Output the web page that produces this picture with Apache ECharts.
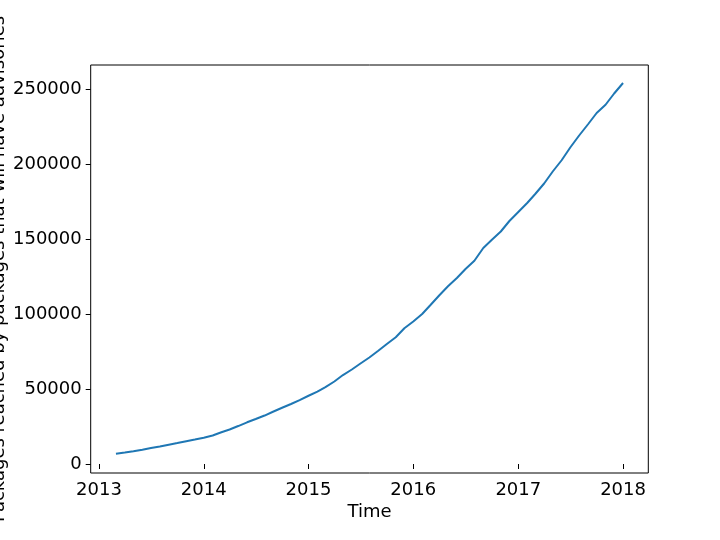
<!DOCTYPE html>
<html>
<head>
<meta charset="utf-8">
<script src="https://cdn.jsdelivr.net/npm/echarts@6/dist/echarts.min.js"></script>
<style>html,body{margin:0;padding:0;background:#fff}#c{width:720px;height:540px}</style>
</head>
<body>
<div id="c"></div>
<script>
var months = [
 '2013-03-01','2013-04-01','2013-05-01','2013-06-01','2013-07-01','2013-08-01','2013-09-01','2013-10-01','2013-11-01','2013-12-01',
 '2014-01-01','2014-02-01','2014-03-01','2014-04-01','2014-05-01','2014-06-01','2014-07-01','2014-08-01','2014-09-01','2014-10-01','2014-11-01','2014-12-01',
 '2015-01-01','2015-02-01','2015-03-01','2015-04-01','2015-05-01','2015-06-01','2015-07-01','2015-08-01','2015-09-01','2015-10-01','2015-11-01','2015-12-01',
 '2016-01-01','2016-02-01','2016-03-01','2016-04-01','2016-05-01','2016-06-01','2016-07-01','2016-08-01','2016-09-01','2016-10-01','2016-11-01','2016-12-01',
 '2017-01-01','2017-02-01','2017-03-01','2017-04-01','2017-05-01','2017-06-01','2017-07-01','2017-08-01','2017-09-01','2017-10-01','2017-11-01','2017-12-01',
 '2018-01-01'
];
var reached = [
 6800,7600,8500,9500,10600,11600,12900,14000,15200,16300,
 17500,19000,21000,23000,25300,27800,30000,32300,35000,37500,40000,42600,
 45500,48300,51300,55000,59300,63000,67000,71000,75500,80000,84500,90500,
 95000,100000,106000,112500,118500,124000,130000,135500,144000,149500,155000,162000,
 168000,174000,180000,187000,195000,202500,211000,219000,226500,234000,239500,247000,
 254000
];
var yearTicks = ['2013-01-01','2014-01-01','2015-01-01','2016-01-01','2017-01-01','2018-01-01'];
var yTicks = [0,50000,100000,150000,200000,250000];

var font = 'DejaVu Sans';
var fs = 18;
function ts(s){ return Date.parse(s + 'T00:00:00Z'); }
var xTickVals = yearTicks.map(ts);
var chart = echarts.init(document.getElementById('c'));
chart.setOption({
  animation:false,
  grid:{left:90.7,right:71.7,top:65,bottom:67,show:true,borderColor:'#000',borderWidth:1,backgroundColor:'transparent',
        outerBoundsMode:'none',containLabel:false},
  xAxis:{
    type:'value',
    min:ts('2012-12-03'), max:ts('2018-03-30'),
    name:'Time', nameLocation:'middle', nameGap:30, nameMoveOverlap:false,
    nameTextStyle:{fontFamily:font,fontSize:fs,color:'#000'},
    axisLine:{show:false},
    splitLine:{show:false},
    axisTick:{show:true,inside:false,length:5,lineStyle:{color:'#000',width:1},customValues:xTickVals},
    axisLabel:{fontFamily:font,fontSize:fs,color:'#000',margin:8,customValues:xTickVals,
      formatter:function(v){ return String(new Date(v).getUTCFullYear()); }}
  },
  yAxis:{
    type:'value',
    min:-6000, max:266000,
    name:'Packages reached by packages that will have advisories', nameLocation:'middle', nameGap:82, nameMoveOverlap:false,
    nameTextStyle:{fontFamily:font,fontSize:fs,color:'#000'},
    axisLine:{show:false},
    splitLine:{show:false},
    axisTick:{show:true,inside:false,length:5,lineStyle:{color:'#000',width:1},customValues:yTicks},
    axisLabel:{fontFamily:font,fontSize:fs,color:'#000',margin:9,customValues:yTicks,
      formatter:function(v){ return String(v); }}
  },
  series:[{
    type:'line',
    data:months.map(function(m,i){ return [ts(m), reached[i]]; }),
    showSymbol:false,
    lineStyle:{color:'#1f77b4',width:2},
    itemStyle:{color:'#1f77b4'}
  }]
});
</script>
</body>
</html>
